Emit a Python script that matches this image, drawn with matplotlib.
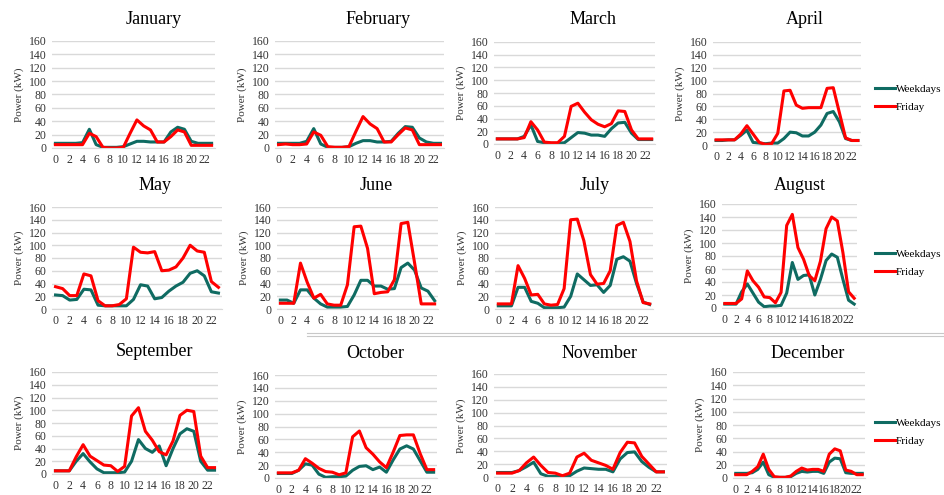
import matplotlib
matplotlib.use("Agg")
import matplotlib.pyplot as plt
from matplotlib.lines import Line2D

plt.rcParams['font.family'] = ['Liberation Serif', 'DejaVu Serif']

hours = list(range(24))
hour_ticks = list(range(0, 24, 2))
y_ticks = [0, 20, 40, 60, 80, 100, 120, 140, 160]

months = ['January', 'February', 'March', 'April', 'May', 'June',
          'July', 'August', 'September', 'October', 'November', 'December']

weekdays_jan = [7, 7, 7, 7, 8, 28, 5, 1, 1, 1, 2, 6, 10, 10, 9, 9, 9, 24, 31, 28, 10, 7, 7, 7]
friday_jan = [5, 5, 5, 5, 5, 22, 17, 1, 0, 0, 1, 22, 42, 33, 27, 9, 9, 17, 27, 24, 4, 4, 4, 4]
weekdays_feb = [7, 7, 7, 7, 10, 29, 6, 1, 1, 1, 2, 7, 11, 11, 9, 9, 10, 22, 32, 31, 15, 9, 7, 7]
friday_feb = [5, 6, 5, 5, 6, 24, 19, 2, 1, 1, 2, 25, 47, 36, 29, 9, 9, 20, 30, 27, 5, 5, 5, 5]
weekdays_mar = [8, 8, 8, 8, 12, 30, 4, 2, 1, 1, 2, 10, 18, 17, 14, 14, 12, 24, 33, 34, 17, 7, 7, 7]
friday_mar = [8, 8, 8, 8, 10, 35, 22, 3, 2, 2, 12, 59, 64, 50, 38, 31, 27, 32, 52, 51, 22, 8, 8, 8]
weekdays_apr = [7, 7, 8, 8, 15, 23, 4, 3, 2, 3, 3, 10, 20, 19, 14, 14, 20, 31, 49, 52, 36, 10, 7, 7]
friday_apr = [8, 8, 8, 8, 17, 30, 17, 4, 1, 2, 18, 84, 85, 62, 57, 58, 58, 58, 88, 89, 50, 11, 7, 7]
weekdays_may = [22, 21, 14, 15, 31, 30, 6, 5, 5, 5, 5, 15, 38, 36, 16, 18, 28, 36, 42, 56, 60, 52, 27, 25]
friday_may = [35, 32, 21, 21, 55, 52, 13, 5, 5, 7, 16, 97, 89, 88, 90, 60, 61, 66, 80, 100, 91, 89, 43, 34]
weekdays_jun = [14, 14, 9, 30, 30, 17, 8, 3, 3, 3, 4, 22, 45, 45, 36, 36, 31, 32, 65, 72, 61, 33, 28, 13]
friday_jun = [9, 9, 9, 72, 42, 17, 23, 8, 6, 6, 38, 129, 130, 95, 24, 26, 27, 46, 134, 136, 73, 8, 8, 8]
weekdays_jul = [5, 5, 5, 34, 34, 12, 9, 2, 2, 2, 3, 20, 55, 46, 37, 38, 26, 37, 78, 82, 75, 40, 11, 7]
friday_jul = [8, 8, 8, 68, 48, 22, 23, 8, 6, 7, 32, 140, 141, 107, 54, 39, 40, 60, 131, 136, 106, 44, 10, 8]
weekdays_aug = [6, 6, 6, 25, 37, 23, 9, 2, 3, 3, 4, 23, 70, 44, 50, 51, 20, 44, 73, 83, 78, 44, 12, 6]
friday_aug = [7, 7, 7, 14, 57, 42, 32, 17, 16, 8, 24, 127, 144, 93, 75, 50, 42, 72, 122, 140, 134, 85, 25, 15]
weekdays_sep = [5, 5, 5, 20, 32, 19, 8, 2, 2, 2, 3, 20, 54, 40, 34, 44, 13, 40, 63, 71, 67, 20, 6, 6]
friday_sep = [5, 5, 5, 27, 46, 28, 21, 14, 13, 4, 12, 91, 104, 67, 53, 35, 30, 52, 92, 100, 98, 28, 10, 10]
weekdays_oct = [7, 7, 7, 12, 22, 20, 6, 1, 2, 2, 3, 12, 18, 19, 13, 17, 9, 28, 45, 50, 45, 27, 9, 9]
friday_oct = [8, 8, 8, 12, 30, 23, 15, 10, 9, 5, 8, 64, 73, 47, 37, 25, 16, 40, 66, 67, 67, 38, 13, 13]
weekdays_nov = [7, 7, 7, 10, 16, 23, 5, 1, 1, 1, 2, 9, 14, 13, 12, 12, 8, 28, 38, 39, 24, 15, 8, 8]
friday_nov = [6, 6, 6, 10, 22, 31, 18, 7, 6, 2, 6, 31, 37, 26, 22, 18, 12, 38, 54, 53, 32, 20, 8, 8]
weekdays_dec = [7, 7, 7, 8, 13, 24, 5, 1, 1, 1, 2, 7, 10, 9, 10, 10, 7, 24, 30, 29, 8, 7, 7, 7]
friday_dec = [5, 5, 5, 10, 17, 36, 13, 2, 1, 1, 3, 10, 15, 12, 13, 13, 10, 36, 44, 41, 12, 10, 5, 5]

weekdays = [weekdays_jan, weekdays_feb, weekdays_mar, weekdays_apr, weekdays_may, weekdays_jun,
            weekdays_jul, weekdays_aug, weekdays_sep, weekdays_oct, weekdays_nov, weekdays_dec]
friday = [friday_jan, friday_feb, friday_mar, friday_apr, friday_may, friday_jun,
          friday_jul, friday_aug, friday_sep, friday_oct, friday_nov, friday_dec]

# plot area boxes in pixels: left, right, top, bottom
boxes = [
    (52, 215, 41, 148), (275, 444, 41, 148), (494, 655, 42, 144), (713, 861, 42, 145),
    (52, 222, 207, 309), (277, 438, 207, 309), (495, 653, 207, 309), (722, 857, 204, 308),
    (52, 218, 372, 474), (275, 437, 375, 478), (494, 667, 374, 477), (733, 865, 372, 478),
]
# title centres in pixels
title_pos = [(154, 20), (378, 20), (593, 20), (805, 20),
             (155, 185), (376, 185), (595, 185), (800, 185),
             (155, 352), (375, 354), (600, 354), (808, 354)]

W, H = 945, 495
teal = '#0f6b62'
red = '#ff0000'
grid_c = '#d9d9d9'

fig = plt.figure(figsize=(W / 100, H / 100), dpi=100)

for i, month in enumerate(months):
    l, r, t, b = boxes[i]
    ax = fig.add_axes([l / W, 1 - b / H, (r - l) / W, (b - t) / H])
    ax.plot(hours, weekdays[i], color=teal, lw=2.2, label='Weekdays')
    ax.plot(hours, friday[i], color=red, lw=2.2, label='Friday')
    ax.set_xlim(-0.5, 23.5)
    ax.set_ylim(0, 160)
    ax.set_yticks(y_ticks)
    ax.set_xticks(hour_ticks)
    ax.grid(axis='y', color=grid_c, lw=1)
    ax.set_axisbelow(True)
    for s in ['top', 'right', 'left']:
        ax.spines[s].set_visible(False)
    ax.spines['bottom'].set_color(grid_c)
    ax.tick_params(length=0, labelsize=8.5, pad=4, colors='#333333')
    ax.set_ylabel('Power (kW)', fontsize=8, color='#333333', labelpad=3)
    tx, ty = title_pos[i]
    fig.text(tx / W, 1 - ty / H, month, ha='center', va='center', fontsize=13)
    if i % 4 == 3:
        h, lab = ax.get_legend_handles_labels()
        legend_y = [98, 263, 432][i // 4]
        fig.legend(h, lab, loc='center left', bbox_to_anchor=(875 / W, 1 - legend_y / H),
                   frameon=False, fontsize=8, handlelength=1.8, handletextpad=0.1,
                   labelspacing=0.8, borderpad=0, borderaxespad=0)

# separator lines above the bottom row
for yy in (333, 336):
    fig.add_artist(Line2D([307 / W, 1], [1 - yy / H, 1 - yy / H], color='#c8c8c8', lw=0.8))

fig.savefig('out.png', dpi=100)
